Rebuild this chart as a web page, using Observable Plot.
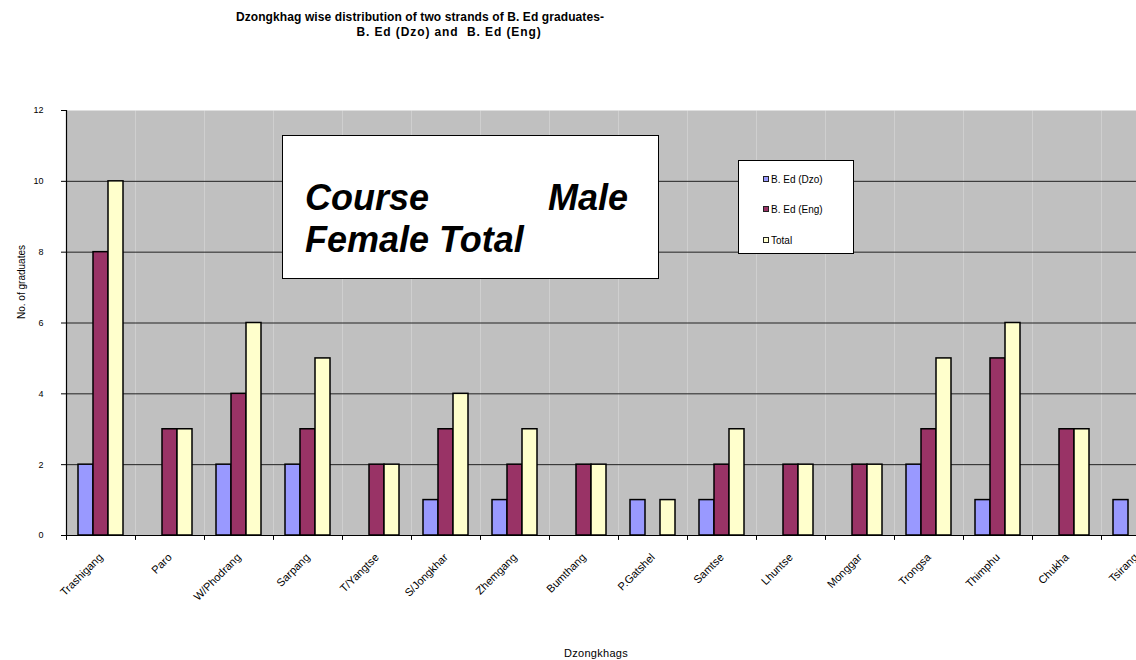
<!DOCTYPE html>
<html>
<head>
<meta charset="utf-8">
<script src="https://cdn.jsdelivr.net/npm/d3@7"></script>
<script src="https://cdn.jsdelivr.net/npm/@observablehq/plot@0.6"></script>
<style>
  html, body { margin: 0; padding: 0; background: #fff; }
  #wrap { position: relative; width: 1136px; height: 660px; overflow: hidden; font-family: "Liberation Sans", Arial, sans-serif; }
  #chart { position: absolute; left: 0; top: 0; width: 1170px; }
  #chart svg { max-width: none !important; }
  .abs { position: absolute; white-space: nowrap; color: #000; }
  .title { font-weight: bold; font-size: 12px; line-height: 12px; transform: translateX(-50%); }
  .bigbox { position: absolute; left: 282px; top: 135px; width: 375px; height: 142px; background: #fff; border: 1.5px solid #000; }
  .big { font-weight: bold; font-style: italic; font-size: 36px; line-height: 36px; }
  .legend { position: absolute; left: 738px; top: 160px; width: 114px; height: 92px; background: #fff; border: 1px solid #000; }
  .sw { position: absolute; width: 4px; height: 4px; border: 1.5px solid #222; }
  .lt { font-size: 10px; line-height: 10px; }
</style>
</head>
<body>
<div id="wrap">
  <div id="chart"></div>
  <div class="abs title" style="left:420px; top:11px; letter-spacing:0.1px;">Dzongkhag wise distribution of two strands of B. Ed graduates-</div>
  <div class="abs title" style="left:449px; top:26px; letter-spacing:0.9px;">B. Ed (Dzo) and&nbsp; B. Ed (Eng)</div>
  <div class="bigbox"></div>
  <div class="abs big" style="left:305px; top:180px;">Course</div>
  <div class="abs big" style="left:628px; top:180px; transform: translateX(-100%);">Male</div>
  <div class="abs big" style="left:305px; top:222px;">Female Total</div>
  <div class="legend" id="legend"></div>
  <div class="abs" style="left:21px; top:282px; font-size:10px; transform: translate(-50%,-50%) rotate(-90deg);">No. of graduates</div>
  <div class="abs" style="left:596px; top:647px; font-size:11px; transform: translateX(-50%); letter-spacing:0.3px;">Dzongkhags</div>
</div>
<script>
const categories = ["Trashigang","Paro","W/Phodrang","Sarpang","T/Yangtse","S/Jongkhar","Zhemgang","Bumthang","P.Gatshel","Samtse","Lhuntse","Monggar","Trongsa","Thimphu","Chukha","Tsirang"];
const seriesNames = ["B. Ed (Dzo)","B. Ed (Eng)","Total"];
const dzo   = [2, 0, 2, 2, 0, 1, 1, 0, 1, 1, 0, 0, 2, 1, 0, 1];
const eng   = [8, 3, 4, 3, 2, 3, 2, 2, 0, 2, 2, 2, 3, 5, 3, 0];
const total = [10, 3, 6, 5, 2, 4, 3, 2, 1, 3, 2, 2, 5, 6, 3, 1];
const yTicks = [0, 2, 4, 6, 8, 10, 12];
const colors = ["#9999FF", "#993366", "#FFFFCC"];

const seriesValues = [dzo, eng, total];
const rows = categories.flatMap((c, i) =>
  seriesNames.map((s, j) => ({cat: c, series: s, value: seriesValues[j][i]}))
).filter(d => d.value > 0);

const chart = Plot.plot({
  width: 1170,
  height: 660,
  marginTop: 110,
  marginBottom: 125,
  marginLeft: 66,
  marginRight: 0,
  style: {fontFamily: "'Liberation Sans', Arial, sans-serif", background: "transparent", overflow: "visible", maxWidth: "none"},
  fx: {domain: categories, padding: 0, label: null},
  x: {domain: seriesNames, axis: null, paddingInner: 0, paddingOuter: 0.8},
  y: {domain: [0, 12], label: null},
  color: {domain: seriesNames, range: colors},
  marks: [
    Plot.frame({fill: "#C0C0C0", stroke: null}),
    Plot.gridY({ticks: [2, 4, 6, 8, 10], stroke: "#222", strokeOpacity: 1, strokeWidth: 1}),
    Plot.barY(rows, {fx: "cat", x: "series", y: "value", fill: "series", stroke: "#000", strokeWidth: 1.5}),
    Plot.ruleY([0], {stroke: "#000", strokeWidth: 1.2}),
    Plot.frame({anchor: "left", facetAnchor: "left", stroke: "#000", strokeWidth: 1.2}),
    Plot.vector([0], {frameAnchor: "bottom-left", length: 4, rotate: 180, anchor: "start", stroke: "#000", strokeWidth: 1,
      shape: {draw(context, l) { context.moveTo(0, 0); context.lineTo(0, -l); }}}),
    Plot.axisY({ticks: yTicks, tickSize: 5, tickPadding: 18, fontSize: 9, label: null, stroke: "#000"}),
    Plot.axisFx({anchor: "bottom", tickRotate: -45, tickSize: 0, tickPadding: 20, fontSize: 11, label: null, textAnchor: "end"})
  ]
});
document.getElementById("chart").appendChild(chart);

const legend = document.getElementById("legend");
const legendTops = [14, 44, 75];
seriesNames.forEach((s, i) => {
  const sw = document.createElement("div");
  sw.className = "sw";
  sw.style.left = "24px";
  sw.style.top = (legendTops[i] + 1) + "px";
  sw.style.background = colors[i];
  legend.appendChild(sw);
  const t = document.createElement("div");
  t.className = "abs lt";
  t.style.left = "32px";
  t.style.top = legendTops[i] + "px";
  t.textContent = s;
  legend.appendChild(t);
});
</script>
</body>
</html>
